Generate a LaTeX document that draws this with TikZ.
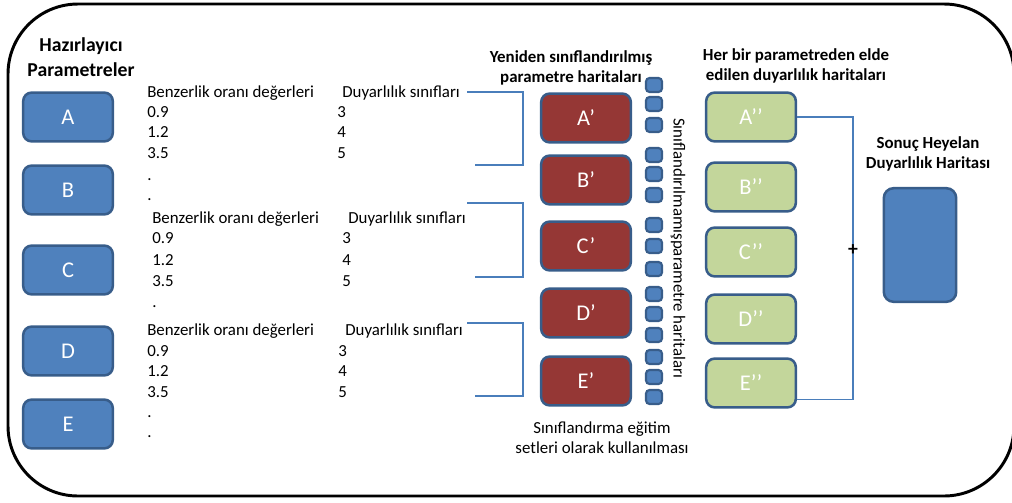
\documentclass[tikz,border=0pt]{standalone}
\usepackage{fontspec}
\setmainfont{Carlito}
\usetikzlibrary{positioning}
\definecolor{ParamBlue}{HTML}{4F81BD}
\definecolor{EdgeBlue}{HTML}{385D8A}
\definecolor{MapRed}{HTML}{953735}
\definecolor{MapGreen}{HTML}{C3D69B}
\definecolor{LinkBlue}{HTML}{4A7EBB}

\begin{document}
\begin{tikzpicture}[x=0.025cm, y=-0.025cm,
                box/.style={draw=EdgeBlue, line width=1.8pt, rounded corners=6pt, minimum width=2.24cm, minimum height=1.22cm, text=white, font=\fontsize{16}{18}\selectfont},
                param/.style={box, fill=ParamBlue},
                remap/.style={box, fill=MapRed},
                sens/.style={box, fill=MapGreen},
                cell/.style={draw=EdgeBlue, fill=ParamBlue, line width=1.5pt, rounded corners=2.5pt, minimum width=0.4cm, minimum height=0.35cm, inner sep=0pt},
                txt/.style={anchor=base west, inner sep=0pt, font=\fontsize{12}{14}\selectfont},
                title/.style={align=center, font=\bfseries\fontsize{12}{14}\selectfont},
                link/.style={draw=LinkBlue, line width=0.8pt}
            ]

            \useasboundingbox (0,0) rectangle (1012,502);
            \draw[line width=2.1pt, rounded corners=1.75cm] (8,4) rectangle (1014,496);

            % input parameters
            \node[title, font=\bfseries\fontsize{14}{17.5}\selectfont] (inTitle) at (81,57) {Hazırlayıcı\\Parametreler};
            \node[param] (pA) at (68,117) {A};
            \node[param] (pB) at (68,190) {B};
            \node[param] (pC) at (68,270) {C};
            \node[param] (pD) at (68,351) {D};
            \node[param] (pE) at (68,424) {E};

            % similarity ratio -> sensitivity class tables
            \node[txt] (bz1) at (147,97) {Benzerlik oranı değerleri};
            \node[txt] (dy1) at (342,97) {Duyarlılık sınıfları};
            \foreach \v/\c/\y [count=\i] in {0.9/3/117, 1.2/4/137, 3.5/5/158} {
                \node[txt] (va\i) at (147,\y) {\v};
                \node[txt] (ca\i) at (337,\y) {\c};
            }
            \node[txt] (da1) at (147,180) {.};
            \node[txt] (da2) at (147,200) {.};

            \node[txt] (bz2) at (152,223) {Benzerlik oranı değerleri};
            \node[txt] (dy2) at (348,223) {Duyarlılık sınıfları};
            \foreach \v/\c/\y [count=\i] in {0.9/3/243, 1.2/4/265, 3.5/5/286} {
                \node[txt] (vb\i) at (152,\y) {\v};
                \node[txt] (cb\i) at (342,\y) {\c};
            }
            \node[txt] (db1) at (152,307) {.};

            \node[txt] (bz3) at (147,335) {Benzerlik oranı değerleri};
            \node[txt] (dy3) at (345,335) {Duyarlılık sınıfları};
            \foreach \v/\c/\y [count=\i] in {0.9/3/356, 1.2/4/376, 3.5/5/397} {
                \node[txt] (vc\i) at (147,\y) {\v};
                \node[txt] (cc\i) at (338,\y) {\c};
            }
            \node[txt] (dc1) at (147,417) {.};
            \node[txt] (dc2) at (147,437) {.};

            % brackets
            \coordinate (k1s) at (467,92);  \coordinate (k1e) at (475,165);
            \coordinate (k2s) at (467,203); \coordinate (k2e) at (475,277);
            \coordinate (k3s) at (467,323); \coordinate (k3e) at (475,396);
            \draw[link] (k1s) -- ++(56,0) |- (k1e);
            \draw[link] (k2s) -- ++(56,0) |- (k2e);
            \draw[link] (k3s) -- ++(56,0) |- (k3e);

            % reclassified maps
            \node[title] (rcTitle) at (571,68) {Yeniden sınıflandırılmış\\parametre haritaları};
            \node[remap] (rA) at (586,118) {A’};
            \node[remap] (rB) at (586,180) {B’};
            \node[remap] (rC) at (586,246) {C’};
            \node[remap] (rD) at (586,313) {D’};
            \node[remap] (rE) at (586,381) {E’};

            % raw parameter map cells
            \foreach \y [count=\i] in {85,104,125,155,174,195,225,246,269,294,314,335,357,377,397}
                \node[cell] (c\i) at (654,\y) {};
            \node[rotate=-90, font=\fontsize{12}{14}\selectfont] (raw) at (678,248) {Sınıflandırılmamışparametre haritaları};
            \node[align=center, font=\fontsize{12}{14}\selectfont] (train) at (602,438) {Sınıflandırma eğitim\\setleri olarak kullanılması};

            % sensitivity maps
            \node[title] (snTitle) at (796,66) {Her bir parametreden elde\\edilen duyarlılık haritaları};
            \node[sens] (sA) at (751,117) {A’’};
            \node[sens] (sB) at (751,187) {B’’};
            \node[sens] (sC) at (751,252) {C’’};
            \node[sens] (sD) at (751,319) {D’’};
            \node[sens] (sE) at (751,383) {E’’};

            \coordinate (sum) at (853,250);
            \draw[link] (sA.east) -| (sum) |- ([yshift=-12pt]sE.east);
            \node[font=\bfseries\fontsize{14}{14}\selectfont, inner sep=0pt] (plus) at (sum) {+};

            % result
            \node[title] (resTitle) at (928,154) {Sonuç Heyelan\\Duyarlılık Haritası};
            \node[param, rounded corners=7pt, minimum width=1.81cm, minimum height=2.84cm] (res) at (920,245) {};

        \end{tikzpicture}
\end{document}
